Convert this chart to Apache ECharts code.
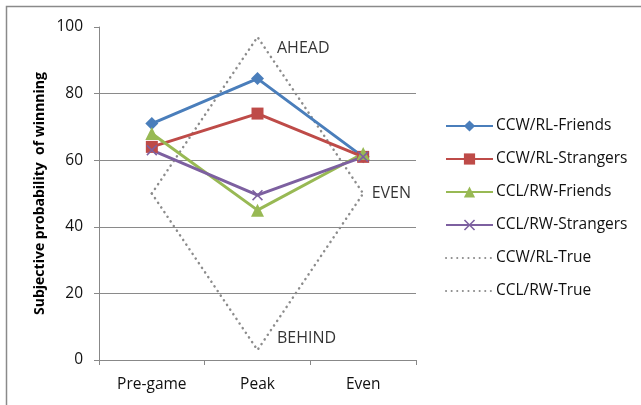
<!DOCTYPE html>
<html><head><meta charset="utf-8">
<script src="https://cdn.jsdelivr.net/npm/echarts@6/dist/echarts.min.js"></script>
<style>html,body{margin:0;padding:0;background:#fff}#c{width:641px;height:405px}</style>
</head><body><div id="c"></div>
<script>
var categories = ['Pre-game', 'Peak', 'Even'];
var ccwRlFriends = [71, 84.5, 61];
var ccwRlStrangers = [64, 74, 61];
var cclRwFriends = [68, 45, 62];
var cclRwStrangers = [63, 49.5, 61];
var ccwRlTrue = [50, 97, 50];
var cclRwTrue = [50, 3, 50];
var yTicks = [0, 20, 40, 60, 80, 100];
var annotationNames = ['AHEAD', 'BEHIND', 'EVEN'];
var annotationCats = ['Peak', 'Peak', 'Even'];
var annotationVals = [93.5, 6.5, 50];

var font = '"Open Sans", "Noto Sans", sans-serif';
var xPath = 'path://M0,1 L1,0 L5,4 L9,0 L10,1 L6,5 L10,9 L9,10 L5,6 L1,10 L0,9 L4,5 Z';

function solid(name, data, color, symbol, size) {
  return {
    name: name, type: 'line', data: data, symbol: symbol, symbolSize: size,
    lineStyle: {color: color, width: 3}, itemStyle: {color: color},
    emphasis: {disabled: true}, z: 5
  };
}
function dotted(name, data) {
  return {
    name: name, type: 'line', data: data, symbol: 'none',
    lineStyle: {color: '#8c8c8c', width: 2.5, type: [0.1, 5.5], cap: 'round'},
    itemStyle: {color: '#8c8c8c'}, emphasis: {disabled: true}, z: 2
  };
}

var annData = annotationNames.map(function (n, i) {
  var d = {value: [annotationCats[i], annotationVals[i]], name: n};
  if (n === 'EVEN') d.label = {offset: [8, 0]};
  return d;
});

var chart = echarts.init(document.getElementById('c'), null, {renderer: 'canvas'});
chart.setOption({
  animation: false,
  backgroundColor: '#fff',
  graphic: [{type: 'rect', shape: {x: 6.5, y: 6.5, width: 700, height: 500},
    style: {fill: 'none', stroke: '#8a8a8a', lineWidth: 1.5}, silent: true}],
  grid: {left: 99, right: 225, top: 27, bottom: 45},
  xAxis: {
    type: 'category', data: categories, boundaryGap: true,
    axisLine: {lineStyle: {color: '#888', width: 1}},
    axisTick: {show: true, length: 5, lineStyle: {color: '#888'}},
    axisLabel: {color: '#111', fontSize: 15.5, fontFamily: font, margin: 17}
  },
  yAxis: {
    type: 'value', min: 0, max: 100, interval: 20,
    name: 'Subjective probability  of winnning', nameLocation: 'middle', nameGap: 52,
    nameTextStyle: {fontSize: 14, fontWeight: 'bold', color: '#000', fontFamily: font},
    axisLine: {show: true, lineStyle: {color: '#888', width: 1}},
    axisTick: {show: true, length: 5, lineStyle: {color: '#888'}},
    axisLabel: {color: '#111', fontSize: 15.5, fontFamily: font, margin: 16,
      formatter: function (v) { return yTicks.indexOf(v) >= 0 ? String(v) : ''; }},
    splitLine: {showMaxLine: false, lineStyle: {color: '#8a8a8a', width: 1}}
  },
  legend: {
    orient: 'vertical', left: 440, top: 113, itemGap: 17, itemWidth: 47, itemHeight: 14,
    textStyle: {fontSize: 15.5, lineHeight: 14, color: '#111', fontFamily: font, padding: [0, 0, 0, -2]},
    data: [
      {name: 'CCW/RL-Friends'}, {name: 'CCW/RL-Strangers'},
      {name: 'CCL/RW-Friends'}, {name: 'CCL/RW-Strangers'},
      {name: 'CCW/RL-True', itemStyle: {opacity: 0}},
      {name: 'CCL/RW-True', itemStyle: {opacity: 0}}
    ]
  },
  series: [
    solid('CCW/RL-Friends', ccwRlFriends, '#4A7EBB', 'diamond', 13),
    solid('CCW/RL-Strangers', ccwRlStrangers, '#BE4B48', 'rect', 12),
    solid('CCL/RW-Friends', cclRwFriends, '#98B954', 'triangle', 13),
    solid('CCL/RW-Strangers', cclRwStrangers, '#7D60A0', xPath, 11),
    dotted('CCW/RL-True', ccwRlTrue),
    dotted('CCL/RW-True', cclRwTrue),
    {
      name: 'annotations', type: 'scatter', data: annData, symbolSize: 1,
      itemStyle: {color: 'rgba(0,0,0,0)'}, silent: true,
      label: {show: true, position: 'right', distance: 0, formatter: '{b}',
        fontSize: 16, color: '#000', fontFamily: font, offset: [19, 0]},
      z: 6
    }
  ]
});
</script></body></html>
